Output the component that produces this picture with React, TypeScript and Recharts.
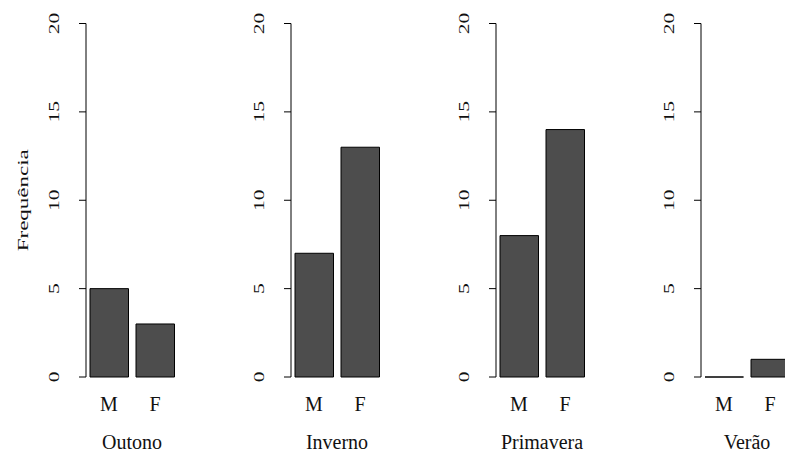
import React from 'react';
import { BarChart, Bar, XAxis, YAxis } from 'recharts';

// counts per season, split by sex
const seasons = ['Outono', 'Inverno', 'Primavera', 'Verão'];
const sexes = ['M', 'F'];
const maleCounts = [5, 7, 8, 0];
const femaleCounts = [3, 13, 14, 1];
const yTicks = [0, 5, 10, 15, 20];

const WIDTH = 785;
const HEIGHT = 453;
const AXIS_X = [86, 291, 496, 701];
const Y_AXIS_W = 86;
const PLOT_W = 92;
const TOP = 23.5;
const PLOT_H = 353.5;
const BOTTOM = TOP + PLOT_H;
const FILL = '#4d4d4d';
const SERIF = "'Liberation Serif', 'Times New Roman', serif";
const textStyle = { fontFamily: SERIF };

// drawn as a path so a zero count still shows its outline
function BarShape(props: any) {
  const { x, y, width, height } = props;
  if (x == null || y == null) return null;
  const d = `M${x},${y}h${width}v${height}h${-width}Z`;
  return <path d={d} fill={FILL} stroke="#000" strokeWidth={1} />;
}

function YTick(props: any) {
  const { y, payload } = props;
  return (
    <text
      transform={`translate(${Y_AXIS_W - 27},${y}) rotate(-90) scale(1,0.66)`}
      textAnchor="middle"
      style={textStyle}
      fontSize={21.5}
      fill="#111"
    >
      {payload.value}
    </text>
  );
}

function XTick(props: any) {
  const { x, payload } = props;
  return (
    <text x={x} y={BOTTOM + 34} textAnchor="middle" style={textStyle} fontSize={20} fill="#111">
      {payload.value}
    </text>
  );
}

function Panel({ index }: { index: number }) {
  const data = sexes.map((sex, j) => ({
    sex,
    count: j === 0 ? maleCounts[index] : femaleCounts[index],
  }));
  const season = seasons[index];

  return (
    <div style={{ position: 'absolute', left: AXIS_X[index] - Y_AXIS_W, top: 0 }}>
      <BarChart
        width={Y_AXIS_W + PLOT_W + 4}
        height={HEIGHT}
        data={data}
        margin={{ top: TOP, right: 4, bottom: 0, left: 0 }}
      >
        <XAxis
          dataKey="sex"
          axisLine={false}
          tickLine={false}
          interval={0}
          height={HEIGHT - BOTTOM}
          padding={{ left: 0, right: 0 }}
          tick={<XTick />}
          label={(p: any) => {
            const vb = p.viewBox || {};
            return (
              <text
                x={(vb.x ?? Y_AXIS_W) + (vb.width ?? PLOT_W) / 2}
                y={BOTTOM + 72}
                textAnchor="middle"
                style={textStyle}
                fontSize={20}
                fill="#111"
              >
                {season}
              </text>
            );
          }}
        />
        <YAxis
          width={Y_AXIS_W}
          domain={[0, 20]}
          ticks={yTicks}
          interval={0}
          tickSize={7}
          axisLine={{ stroke: '#000', strokeWidth: 1 }}
          tickLine={{ stroke: '#000', strokeWidth: 1 }}
          tick={<YTick />}
          label={
            index === 0
              ? () => (
                  <text
                    transform={`translate(28,${TOP + PLOT_H / 2}) rotate(-90) scale(1,0.66)`}
                    textAnchor="middle"
                    style={textStyle}
                    fontSize={23}
                    fill="#111"
                  >
                    Frequência
                  </text>
                )
              : undefined
          }
        />
        <Bar dataKey="count" barSize={38.5} shape={<BarShape />} isAnimationActive={false} />
      </BarChart>
    </div>
  );
}

export default function App() {
  return (
    <div
      style={{
        position: 'absolute',
        left: 0,
        top: 0,
        width: WIDTH,
        height: HEIGHT,
        overflow: 'hidden',
        background: '#fff',
      }}
    >
      {seasons.map((s, i) => (
        <Panel key={s} index={i} />
      ))}
    </div>
  );
}
